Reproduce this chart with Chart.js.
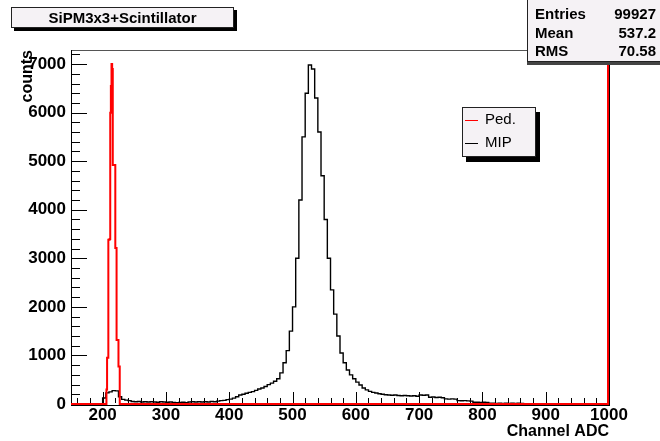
<!DOCTYPE html>
<html>
<head>
<meta charset="utf-8">
<script src="https://cdn.jsdelivr.net/npm/chart.js@4.4.1/dist/chart.umd.min.js"></script>
<style>
  body { margin: 0; background: #fff; }
  #wrap { position: relative; width: 660px; height: 441px; overflow: hidden;
          font-family: "Liberation Sans", Arial, Helvetica, sans-serif; }
  #chart { position: absolute; left: 0; top: 0; }
  .pave { position: absolute; background: #f5f2f5; border: 1px solid #222; box-sizing: border-box; }
  #title { left: 11px; top: 7px; width: 223px; height: 21px; box-shadow: 3px 3px 0 #000;
           font-weight: bold; font-size: 15px; text-align: center; line-height: 19px; }
  #stats { left: 527px; top: -1px; width: 150px; height: 63px; box-shadow: 0 3px 0 #444;
           font-weight: bold; font-size: 15px; }
  #stats div { position: absolute; left: 7px; width: 121px; height: 18px; line-height: 18px; }
  #stats span { position: absolute; right: 0; top: 0; }
  #legend { left: 462px; top: 107px; width: 74px; height: 50px; box-shadow: 4px 5px 0 #000;
            font-size: 15px; }
  #legend div { position: absolute; left: 2px; height: 18px; line-height: 18px; }
  #legend i { display: inline-block; width: 13px; height: 0; border-top: 1px solid; vertical-align: middle; margin-right: 7px; }
</style>
</head>
<body>
<div id="wrap">
  <canvas id="chart" width="660" height="441"></canvas>
  <div class="pave" id="title"></div>
  <div class="pave" id="stats"></div>
  <div class="pave" id="legend"></div>
</div>
<script>
var xMin = 150, xMax = 1000;
var yMin = 0, yMax = 7290;
var xTicks = [200, 300, 400, 500, 600, 700, 800, 900, 1000];
var yTicks = [0, 1000, 2000, 3000, 4000, 5000, 6000, 7000];

var titleText = "SiPM3x3+Scintillator";
var xTitle = "Channel ADC";
var yTitle = "counts";
var statsLabels = ["Entries", "Mean", "RMS"];
var statsValues = ["99927", "537.2", "70.58"];
var seriesNames = ["Ped.", "MIP"];
var seriesColors = ["#ff0000", "#000000"];

// pedestal histogram, 1 channel bins from 206
var pedStart = 206, pedWidth = 1;
var pedCounts = [300, 950, 950, 3380, 3380, 3400, 6000, 6550, 7000, 6900,
                 4920, 4920, 4920, 4920, 3210, 3210, 1320, 1320, 1320, 770, 770];

// MIP histogram, 5 channel bins from 195
var mipStart = 195, mipWidth = 5;
var mipCounts = [
  0, 125, 230, 250, 275, 270, 150, 95, 80, 70,          // 195-240
  50, 45, 50, 40, 45, 40, 45, 40, 35, 45,               // 245-290
  40, 35, 40, 30, 25, 30, 35, 25, 40, 45,               // 295-340
  40, 45, 40, 45, 40, 50, 45, 60, 70, 75,               // 345-390
  90, 100, 120, 150, 185, 200, 220, 240, 255, 280,      // 395-440
  310, 330, 360, 400, 430, 470, 520, 640, 850, 1100,    // 445-490
  1500, 2000, 3000, 4200, 5500, 6400, 6980, 6900, 6300, 5600, // 495-540
  4700, 3800, 3000, 2350, 1850, 1400, 1050, 850, 700, 600,    // 545-590
  520, 450, 390, 330, 290, 260, 240, 225, 210, 200,     // 595-640
  190, 185, 180, 185, 175, 170, 175, 170, 165, 170,     // 645-690
  160, 185, 180, 185, 140, 145, 135, 140, 130, 105,     // 695-740
  100, 105, 100, 70, 68, 70, 65, 60, 35, 35,            // 745-790
  30, 35, 30, 15, 15, 12, 15, 12, 14, 12,               // 795-840
  15, 12, 14, 10                                        // 845-860
];

function histPoints(start, width, counts) {
  var pts = [{ x: start, y: 0 }];
  for (var i = 0; i < counts.length; i++) {
    pts.push({ x: start + i * width, y: counts[i] });
  }
  pts.push({ x: start + counts.length * width, y: 0 });
  return pts;
}

var pedData = [{ x: xMin, y: 0 }].concat(histPoints(pedStart, pedWidth, pedCounts));
pedData.push({ x: xMax, y: 0 });
var mipData = histPoints(mipStart, mipWidth, mipCounts);

// html panes
document.getElementById('title').textContent = titleText;
var stats = document.getElementById('stats');
for (var i = 0; i < statsLabels.length; i++) {
  var row = document.createElement('div');
  row.style.top = (5 + i * 18.5) + 'px';
  row.textContent = statsLabels[i];
  var val = document.createElement('span');
  val.textContent = statsValues[i];
  row.appendChild(val);
  stats.appendChild(row);
}
var legend = document.getElementById('legend');
for (var j = 0; j < seriesNames.length; j++) {
  var item = document.createElement('div');
  item.style.top = (2 + j * 23) + 'px';
  item.innerHTML = '<i style="border-color:' + seriesColors[j] + '"></i>' + seriesNames[j];
  legend.appendChild(item);
}

var rootFrame = {
  id: 'rootFrame',
  beforeDatasetsDraw: function(chart) {
    var ctx = chart.ctx, a = chart.chartArea;
    ctx.save();
    ctx.lineWidth = 1;
    ctx.strokeStyle = '#555';
    ctx.beginPath();
    ctx.moveTo(a.left, a.top + 0.5); ctx.lineTo(a.right, a.top + 0.5);
    ctx.stroke();
    ctx.strokeStyle = '#000';
    ctx.beginPath();
    ctx.moveTo(a.left + 0.5, a.top); ctx.lineTo(a.left + 0.5, a.bottom + 1);
    ctx.moveTo(a.left, a.bottom + 1.5); ctx.lineTo(a.right, a.bottom + 1.5);
    ctx.moveTo(a.right + 0.5, a.top); ctx.lineTo(a.right + 0.5, a.bottom + 2);
    ctx.stroke();
    ctx.restore();
  },
  afterDatasetsDraw: function(chart) {
    var ctx = chart.ctx, a = chart.chartArea;
    var xs = chart.scales.x, ys = chart.scales.y;
    ctx.save();
    ctx.strokeStyle = '#000';
    ctx.lineWidth = 1;
    ctx.beginPath();
    for (var v = 160; v < xMax; v += 20) {
      var px = Math.round(xs.getPixelForValue(v)) + 0.5;
      var len = xTicks.indexOf(v) >= 0 ? 12 : 6;
      ctx.moveTo(px, a.bottom - 1); ctx.lineTo(px, a.bottom - len);
    }
    for (var w = 200; w < yMax; w += 200) {
      var py = Math.round(ys.getPixelForValue(w)) + 0.5;
      var l2 = yTicks.indexOf(w) >= 0 ? 16 : 9;
      ctx.moveTo(a.left, py); ctx.lineTo(a.left + l2, py);
    }
    ctx.stroke();
    ctx.strokeStyle = seriesColors[0];
    ctx.lineWidth = 2;
    ctx.beginPath();
    ctx.moveTo(a.right - 1, a.top); ctx.lineTo(a.right - 1, a.bottom);
    ctx.stroke();
    ctx.restore();
  }
};

var fontFamily = '"Liberation Sans", Arial, Helvetica, sans-serif';
var tickFont = { family: fontFamily, size: 17, weight: 'bold' };
var titleFont = { family: fontFamily, size: 16, weight: 'bold' };
function plainLabel(v) { return String(v); }

new Chart(document.getElementById('chart'), {
  type: 'line',
  data: {
    datasets: [
      { label: seriesNames[0], data: pedData, borderColor: seriesColors[0], borderWidth: 2,
        stepped: 'before', pointRadius: 0, fill: false, clip: false },
      { label: seriesNames[1], data: mipData, borderColor: seriesColors[1], borderWidth: 1.4,
        stepped: 'before', pointRadius: 0, fill: false }
    ]
  },
  options: {
    responsive: false,
    animation: false,
    events: [],
    layout: { padding: { top: 50, right: 51, left: 0, bottom: 0 } },
    plugins: { legend: { display: false }, tooltip: { enabled: false } },
    scales: {
      x: {
        type: 'linear', min: xMin, max: xMax,
        grid: { display: false, drawTicks: false },
        border: { display: false },
        afterBuildTicks: function(s) { s.ticks = xTicks.map(function(v) { return { value: v }; }); },
        afterFit: function(s) { s.height = 37; },
        ticks: { color: '#000', font: tickFont, padding: 1, maxRotation: 0, autoSkip: false,
                 callback: plainLabel },
        title: { display: true, text: xTitle, align: 'end', color: '#000', font: titleFont,
                 padding: { top: 0, bottom: 0 } }
      },
      y: {
        type: 'linear', min: yMin, max: yMax,
        grid: { display: false, drawTicks: false },
        border: { display: false },
        afterBuildTicks: function(s) { s.ticks = yTicks.map(function(v) { return { value: v }; }); },
        afterFit: function(s) { s.width = 71; },
        ticks: { color: '#000', font: tickFont, padding: 5, autoSkip: false, callback: plainLabel },
        title: { display: true, text: yTitle, align: 'end', color: '#000', font: titleFont,
                 padding: { top: 18, bottom: 0 } }
      }
    }
  },
  plugins: [rootFrame]
});
</script>
</body>
</html>
